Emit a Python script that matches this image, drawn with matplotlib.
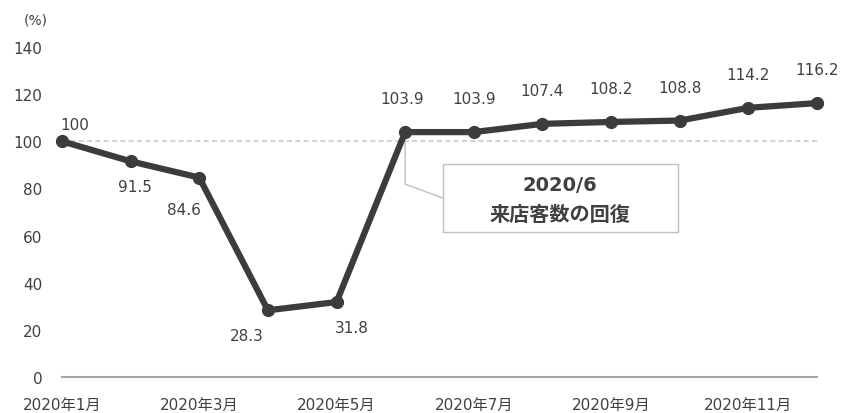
import matplotlib.pyplot as plt
from matplotlib.patches import Rectangle

plt.rcParams['font.family'] = ['DejaVu Sans', 'Noto Sans CJK JP']

months = ['2020年1月', '2020年2月', '2020年3月', '2020年4月', '2020年5月', '2020年6月',
          '2020年7月', '2020年8月', '2020年9月', '2020年10月', '2020年11月', '2020年12月']
values = [100, 91.5, 84.6, 28.3, 31.8, 103.9, 103.9, 107.4, 108.2, 108.8, 114.2, 116.2]
# label placement: offset in points from each point
label_offsets = [(9, 12), (3, -18), (-11, -23), (-15, -18), (11, -18), (-2, 24),
                 (0, 24), (0, 24), (0, 24), (0, 24), (0, 24), (0, 24)]
yticks = [0, 20, 40, 60, 80, 100, 120, 140]
baseline = 100
note_title = '2020/6'
note_text = '来店客数の回復'

fig = plt.figure(figsize=(8.42, 4.14), dpi=100)
ax = fig.add_axes([62/842, 36/414, 755/842, 330/414])

x = list(range(len(values)))
ax.axhline(baseline, color='#c8c8c8', linestyle=(0, (3, 2)), linewidth=1.2, zorder=1)
ax.plot(x, values, color='#3c3c3c', linewidth=4.5, marker='o', markersize=8.5, zorder=3, clip_on=False)

for xi, v, off in zip(x, values, label_offsets):
    ax.annotate(f'{v:g}', (xi, v), xytext=off, textcoords='offset points',
                ha='center', va='center', fontsize=11, color='#404040')

ax.set_xlim(0, len(values) - 1)
ax.set_ylim(0, 140)
ax.set_yticks(yticks)
ax.set_xticks(x[::2])
ax.set_xticklabels(months[::2])
ax.tick_params(length=0, labelsize=11, labelcolor='#404040')
ax.tick_params(axis='y', pad=14)
ax.tick_params(axis='x', pad=14)
for s in ['top', 'right', 'left']:
    ax.spines[s].set_visible(False)
ax.spines['bottom'].set_color('#a6a6a6')
ax.spines['bottom'].set_linewidth(1.5)

ax.text(-0.035, 1.07, '(%)', transform=ax.transAxes, fontsize=10, color='#404040', ha='center')

# annotation box
bx0, bx1, by0, by1 = 5.55, 8.97, 61.5, 90.4
ax.add_patch(Rectangle((bx0, by0), bx1 - bx0, by1 - by0, facecolor='white',
                       edgecolor='#bfbfbf', linewidth=1, zorder=2))
cx = (bx0 + bx1) / 2
ax.text(cx, 81.5, note_title, ha='center', va='center', fontsize=14, fontweight='bold', color='#404040', zorder=4)
ax.text(cx, 69, note_text, ha='center', va='center', fontsize=14.5, fontweight='bold', color='#404040', zorder=4)
ax.annotate('', xy=(5, values[5]), xytext=(bx0, (by0 + by1) / 2),
            arrowprops=dict(arrowstyle='-', color='#bfbfbf', lw=1,
                            connectionstyle='angle,angleA=160,angleB=90,rad=0',
                            shrinkA=0, shrinkB=6), zorder=2)

fig.savefig('out.png', dpi=100)
